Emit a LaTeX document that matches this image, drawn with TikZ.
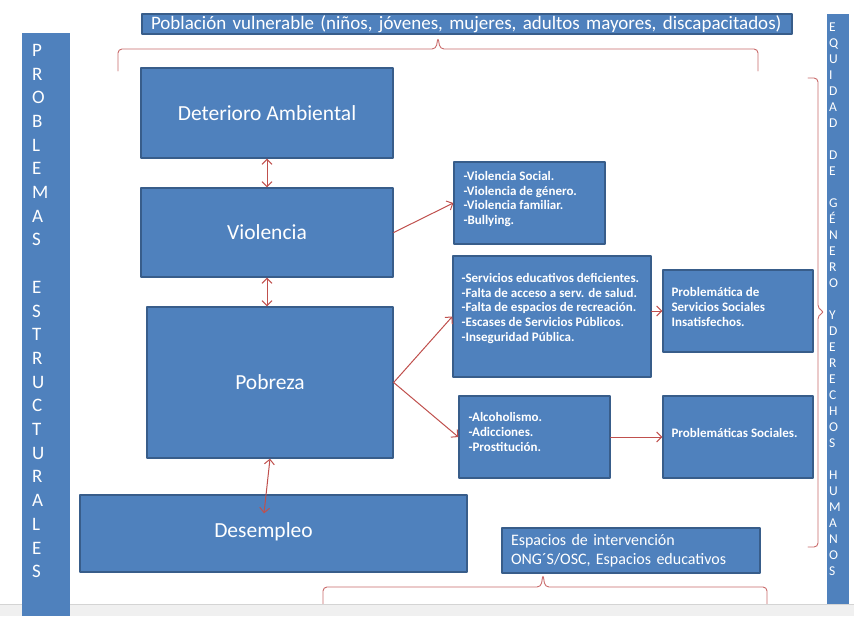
\documentclass[tikz,border=0pt]{standalone}
\usepackage{fontspec}
\setmainfont{Carlito}
\usetikzlibrary{arrows.meta,calc}
\definecolor{bg}{HTML}{FFFFFF}
\definecolor{boxfill}{HTML}{4F81BD}
\definecolor{boxedge}{HTML}{385D8A}
\definecolor{arrowred}{HTML}{C0504D}
\definecolor{bracered}{HTML}{C96A6A}
\definecolor{strip}{HTML}{F0F0F0}
\definecolor{stripedge}{HTML}{D4D4D4}

\begin{document}
\begin{tikzpicture}[x=1pt,y=-1pt,line cap=round,line join=round,
  blk/.style={rectangle,fill=boxfill,draw=boxedge,line width=1.3pt,text=white,inner sep=0pt},
  bigtxt/.style={font=\fontsize{21.5}{26}\selectfont,text=white},
  listtxt/.style={font=\bfseries\fontsize{13}{14.6}\selectfont,align=left,text=white,inner sep=0pt,anchor=west},
  relarrow/.style={-{Straight Barb[length=5pt,width=10pt]},line width=1pt,arrowred},
  dblarrow/.style={{Straight Barb[length=5pt,width=10pt]}-{Straight Barb[length=5pt,width=10pt]},line width=1pt,arrowred},
  bracestyle/.style={bracered,line width=0.9pt,rounded corners=4pt}]
  \fill[bg] (0,0) rectangle (854,616);
  \useasboundingbox (0,0) rectangle (854,616);

  % ---- braces ----
  \draw[bracestyle] (118,71) -- (118,49) -- (436,49) -- (438,37) -- (440,49) -- (758,49) -- (758,71);
  \draw[bracestyle] (808,78) -- (818,78) -- (818,309) -- (825,312) -- (818,315) -- (818,547) -- (808,547);
  \draw[bracestyle] (323,606) -- (323,587) -- (541,587) -- (543,574) -- (545,587) -- (767,587) -- (767,606);

  % ---- title boxes ----
  \node[blk,font=\fontsize{19}{22}\selectfont,align=left,inner xsep=9pt,text width=632,minimum height=20] (pob) at (467,24)
    {Población vulnerable (niños, jóvenes, mujeres, adultos mayores, discapacitados)};
  \node[blk,font=\fontsize{16}{19}\selectfont,align=left,inner xsep=9pt,text width=240,minimum height=45] (esp) at (631,550.5)
    {Espacios de intervención\\ONG´S/OSC, Espacios educativos};

  % ---- main column ----
  \node[blk,bigtxt,minimum width=252,minimum height=90] (deter) at (267,113) {Deterioro Ambiental};
  \node[blk,bigtxt,minimum width=252,minimum height=89] (viol) at (267,232.5) {Violencia};
  \node[blk,bigtxt,minimum width=246,minimum height=151] (pobr) at (270,382.5) {Pobreza};
  \node[blk,minimum width=387,minimum height=77] (desem) at (273.5,533.5) {};
  \node[bigtxt] (desemtxt) at ($(desem.center)+(-10,-2)$) {Desempleo};

  % ---- lists and consequences (text set from the left edge) ----
  \node[blk,minimum width=151,minimum height=82] (violist) at (529.5,203) {};
  \node[listtxt] (violisttxt) at ($(violist.west)+(10,-4)$)
    {-Violencia Social.\\-Violencia de género.\\-Violencia familiar.\\-Bullying.};
  \node[blk,minimum width=198,minimum height=121] (serv) at (552,316.5) {};
  \node[listtxt] (servtxt) at ($(serv.west)+(9,-8)$)
    {-Servicios educativos deficientes.\\-Falta de acceso a serv. de salud.\\-Falta de espacios de recreación.\\-Escases de Servicios Públicos.\\-Inseguridad Pública.};
  \node[blk,minimum width=151,minimum height=82] (alco) at (534.5,437) {};
  \node[listtxt] (alcotxt) at ($(alco.west)+(10,-5)$)
    {-Alcoholismo.\\-Adicciones.\\-Prostitución.};
  \node[blk,minimum width=150,minimum height=82] (probserv) at (738,311) {};
  \node[listtxt] (probservtxt) at ($(probserv.west)+(9,-4)$)
    {Problemática de\\Servicios Sociales\\Insatisfechos.};
  \node[blk,minimum width=150,minimum height=82] (probsoc) at (738,437) {};
  \node[listtxt] (probsoctxt) at ($(probsoc.west)+(9,-4)$) {Problemáticas Sociales.};

  % ---- connectors ----
  \draw[dblarrow] (deter.south) -- (viol.north);
  \draw[dblarrow] (viol.south) -- (viol.south |- pobr.north);
  \draw[dblarrow] (pobr.south) -- ($(desem.north)+(-9.5,19)$);
  \draw[relarrow] (viol.east) -- (violist.west);
  \draw[relarrow] (pobr.east) -- (serv.west);
  \draw[relarrow] (pobr.east) -- (alco.west);
  \draw[relarrow] (serv.east |- probserv.west) -- (probserv.west);
  \draw[relarrow] (alco.east) -- (probsoc.west);

  % ---- window strip and side bars ----
  \fill[strip] (0,604) rectangle (854,616);
  \draw[stripedge,line width=0.8pt] (0,604) -- (854,604);
  \fill[boxfill] (22,33) rectangle (70,616);
  \fill[boxfill] (827,14) rectangle (849,604);
  \node[anchor=north west,inner sep=0pt,align=left,text=white,font=\fontsize{19}{23.7}\selectfont] (leftlbl) at (32,44)
    {P\\R\\O\\B\\L\\E\\M\\A\\S\\[23.7pt]E\\S\\T\\R\\U\\C\\T\\U\\R\\A\\L\\E\\S};
  \node[anchor=north west,inner sep=0pt,align=left,text=white,font=\fontsize{13.5}{16}\selectfont] (rightlbl) at (829,22.5)
    {E\\Q\\U\\I\\D\\A\\D\\[16pt]D\\E\\[16pt]G\\É\\N\\E\\R\\O\\[16pt]Y\\D\\E\\R\\E\\C\\H\\O\\S\\[16pt]H\\U\\M\\A\\N\\O\\S};
\end{tikzpicture}
\end{document}
